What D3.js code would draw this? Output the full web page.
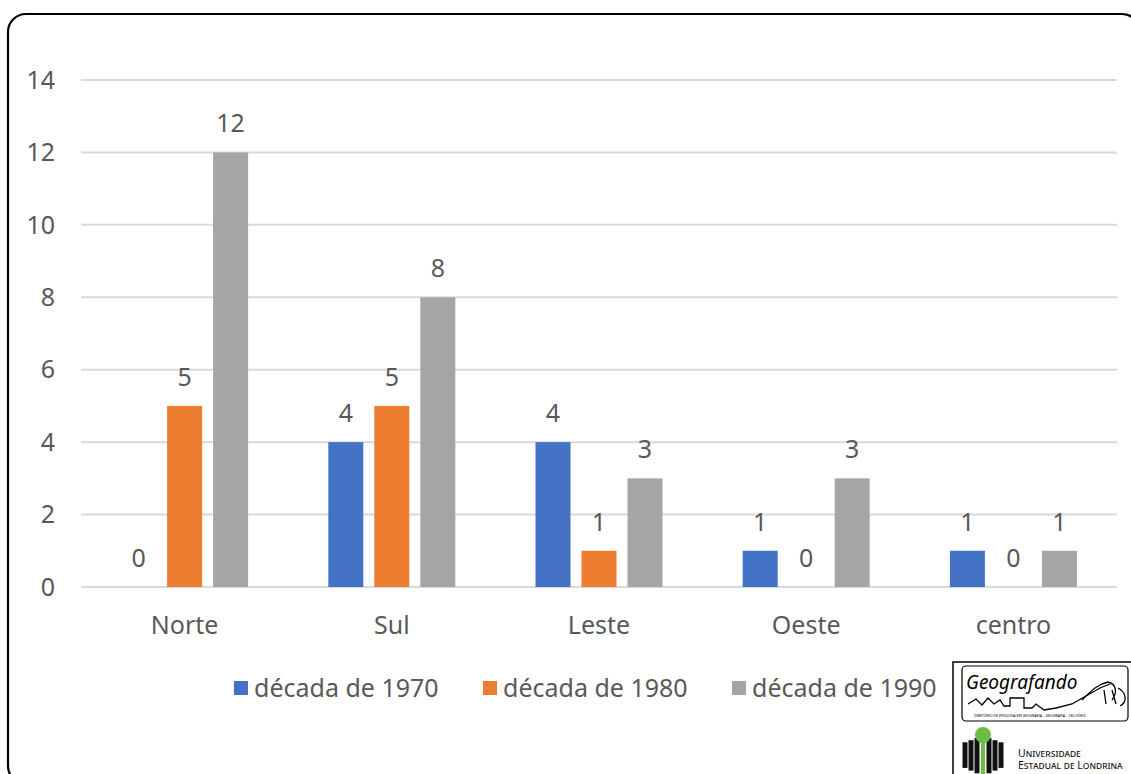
<!DOCTYPE html>
<meta charset="utf-8">
<script src="https://d3js.org/d3.v7.min.js"></script>
<style>
  body { margin: 0; background: #fff; }
  text { font-family: "Noto Sans", "Open Sans", sans-serif; }
</style>
<div id="chart"></div>
<script>
// data
const categories = ["Norte", "Sul", "Leste", "Oeste", "centro"];
const series = ["década de 1970", "década de 1980", "década de 1990"];
const d1970 = [0, 4, 4, 1, 1];
const d1980 = [5, 5, 1, 0, 0];
const d1990 = [12, 8, 3, 3, 1];
const yTicks = [0, 2, 4, 6, 8, 10, 12, 14];
const colors = ["#4472C4", "#ED7D31", "#A5A5A5"];

const W = 1131, H = 774;
const plot = {left: 81, right: 1117, top: 80, bottom: 587};
const textColor = "#595959";
const fs = 25;

const svg = d3.select("#chart").append("svg")
  .attr("width", W).attr("height", H);

// outer frame
svg.append("rect")
  .attr("x", 8).attr("y", 14)
  .attr("width", 1132).attr("height", 770)
  .attr("rx", 18)
  .attr("fill", "none").attr("stroke", "#000").attr("stroke-width", 2.2);

const x0 = d3.scaleBand().domain(categories).range([plot.left, plot.right]);
const x1 = d3.scaleBand().domain(series)
  .range([(x0.bandwidth() - 127) / 2, (x0.bandwidth() + 127) / 2])
  .paddingInner(11 / 46);
const y = d3.scaleLinear().domain([0, 14]).range([plot.bottom, plot.top]);

// gridlines
svg.append("g").selectAll("line").data(yTicks).join("line")
  .attr("x1", plot.left).attr("x2", plot.right)
  .attr("y1", d => y(d)).attr("y2", d => y(d))
  .attr("stroke", "#d9d9d9").attr("stroke-width", 2);

// y tick labels
svg.append("g").selectAll("text").data(yTicks).join("text")
  .attr("x", 55).attr("y", d => y(d))
  .attr("dy", "0.35em")
  .attr("text-anchor", "end")
  .attr("font-size", fs).attr("fill", textColor)
  .text(d => d);

// bars
const rows = categories.map((c, i) => ({cat: c, vals: [d1970[i], d1980[i], d1990[i]]}));
const groups = svg.append("g").selectAll("g").data(rows).join("g")
  .attr("transform", d => "translate(" + x0(d.cat) + ",0)");

groups.selectAll("rect").data(d => d.vals.map((v, j) => ({s: series[j], v: v, j: j}))).join("rect")
  .attr("x", d => x1(d.s))
  .attr("y", d => y(d.v))
  .attr("width", x1.bandwidth())
  .attr("height", d => y(0) - y(d.v))
  .attr("fill", d => colors[d.j]);

groups.selectAll("text").data(d => d.vals.map((v, j) => ({s: series[j], v: v}))).join("text")
  .attr("x", d => x1(d.s) + x1.bandwidth() / 2)
  .attr("y", d => y(d.v) - 20)
  .attr("text-anchor", "middle")
  .attr("font-size", fs).attr("fill", textColor)
  .text(d => d.v);

// category labels
svg.append("g").selectAll("text").data(categories).join("text")
  .attr("x", d => x0(d) + x0.bandwidth() / 2)
  .attr("y", 634)
  .attr("text-anchor", "middle")
  .attr("font-size", fs).attr("fill", textColor)
  .text(d => d);

// legend
const legend = svg.append("g").selectAll("g").data(series).join("g")
  .attr("transform", (d, i) => "translate(" + (234 + i * 249) + ",688)");
legend.append("rect")
  .attr("x", 0).attr("y", -7).attr("width", 14).attr("height", 14)
  .attr("fill", (d, i) => colors[i]);
legend.append("text")
  .attr("x", 20).attr("y", 0).attr("dy", "0.35em")
  .attr("font-size", fs).attr("fill", textColor)
  .text(d => d);

// logos in the corner
const logo = svg.append("g");
logo.append("rect")
  .attr("x", 953).attr("y", 662).attr("width", 190).attr("height", 120)
  .attr("fill", "#fff").attr("stroke", "#000").attr("stroke-width", 1.5);
logo.append("rect")
  .attr("x", 962).attr("y", 666).attr("width", 166).attr("height", 55)
  .attr("rx", 4)
  .attr("fill", "#fff").attr("stroke", "#000").attr("stroke-width", 1.2);
logo.append("text")
  .attr("x", 966).attr("y", 689)
  .attr("font-family", "'DejaVu Sans', sans-serif")
  .attr("font-style", "italic")
  .attr("font-size", 19).attr("fill", "#000")
  .text("Geografando");
logo.append("path")
  .attr("d", "M968,704 L976,699 L982,705 L988,698 L994,704 L1000,700 L1004,706 L1010,706 L1010,698 L1024,698 L1024,708 L1032,708 L1036,704 L1044,710 L1056,708 L1072,704 L1086,696 L1100,688 L1110,684")
  .attr("fill", "none").attr("stroke", "#000").attr("stroke-width", 1.3);
logo.append("path")
  .attr("d", "M1082,700 C1092,690 1098,684 1108,682 C1116,684 1118,692 1112,700 M1104,690 L1106,704 M1112,690 L1116,704 M1118,688 C1126,692 1128,702 1120,706")
  .attr("fill", "none").attr("stroke", "#000").attr("stroke-width", 1.3);
logo.append("text")
  .attr("x", 1030).attr("y", 717)
  .attr("text-anchor", "middle")
  .attr("font-size", 3.5).attr("fill", "#000")
  .text("DIRETÓRIO DE PESQUISA EM GEOGRAFIA – GEOGRAFIA – UEL/DGEO");

// UEL mark
const pillars = [-18, -12, -6, 6, 12, 18];
logo.append("g").selectAll("rect").data(pillars).join("rect")
  .attr("x", d => 983 + d - 2.5)
  .attr("y", d => 736 + Math.abs(d) * 0.35)
  .attr("width", 5)
  .attr("height", d => 40 - Math.abs(d) * 0.8)
  .attr("fill", "#111");
logo.append("rect")
  .attr("x", 981).attr("y", 736).attr("width", 4).attr("height", 40)
  .attr("fill", "#6bbd45");
logo.append("circle")
  .attr("cx", 983).attr("cy", 735).attr("r", 8)
  .attr("fill", "#6bbd45");
logo.append("text")
  .attr("x", 1018).attr("y", 757)
  .attr("font-family", "'Liberation Serif', serif")
  .attr("font-size", 10.5).attr("fill", "#111")
  .attr("font-variant", "small-caps")
  .text("Universidade");
logo.append("text")
  .attr("x", 1018).attr("y", 769)
  .attr("font-family", "'Liberation Serif', serif")
  .attr("font-size", 10.5).attr("fill", "#111")
  .attr("font-variant", "small-caps")
  .text("Estadual de Londrina");
</script>
